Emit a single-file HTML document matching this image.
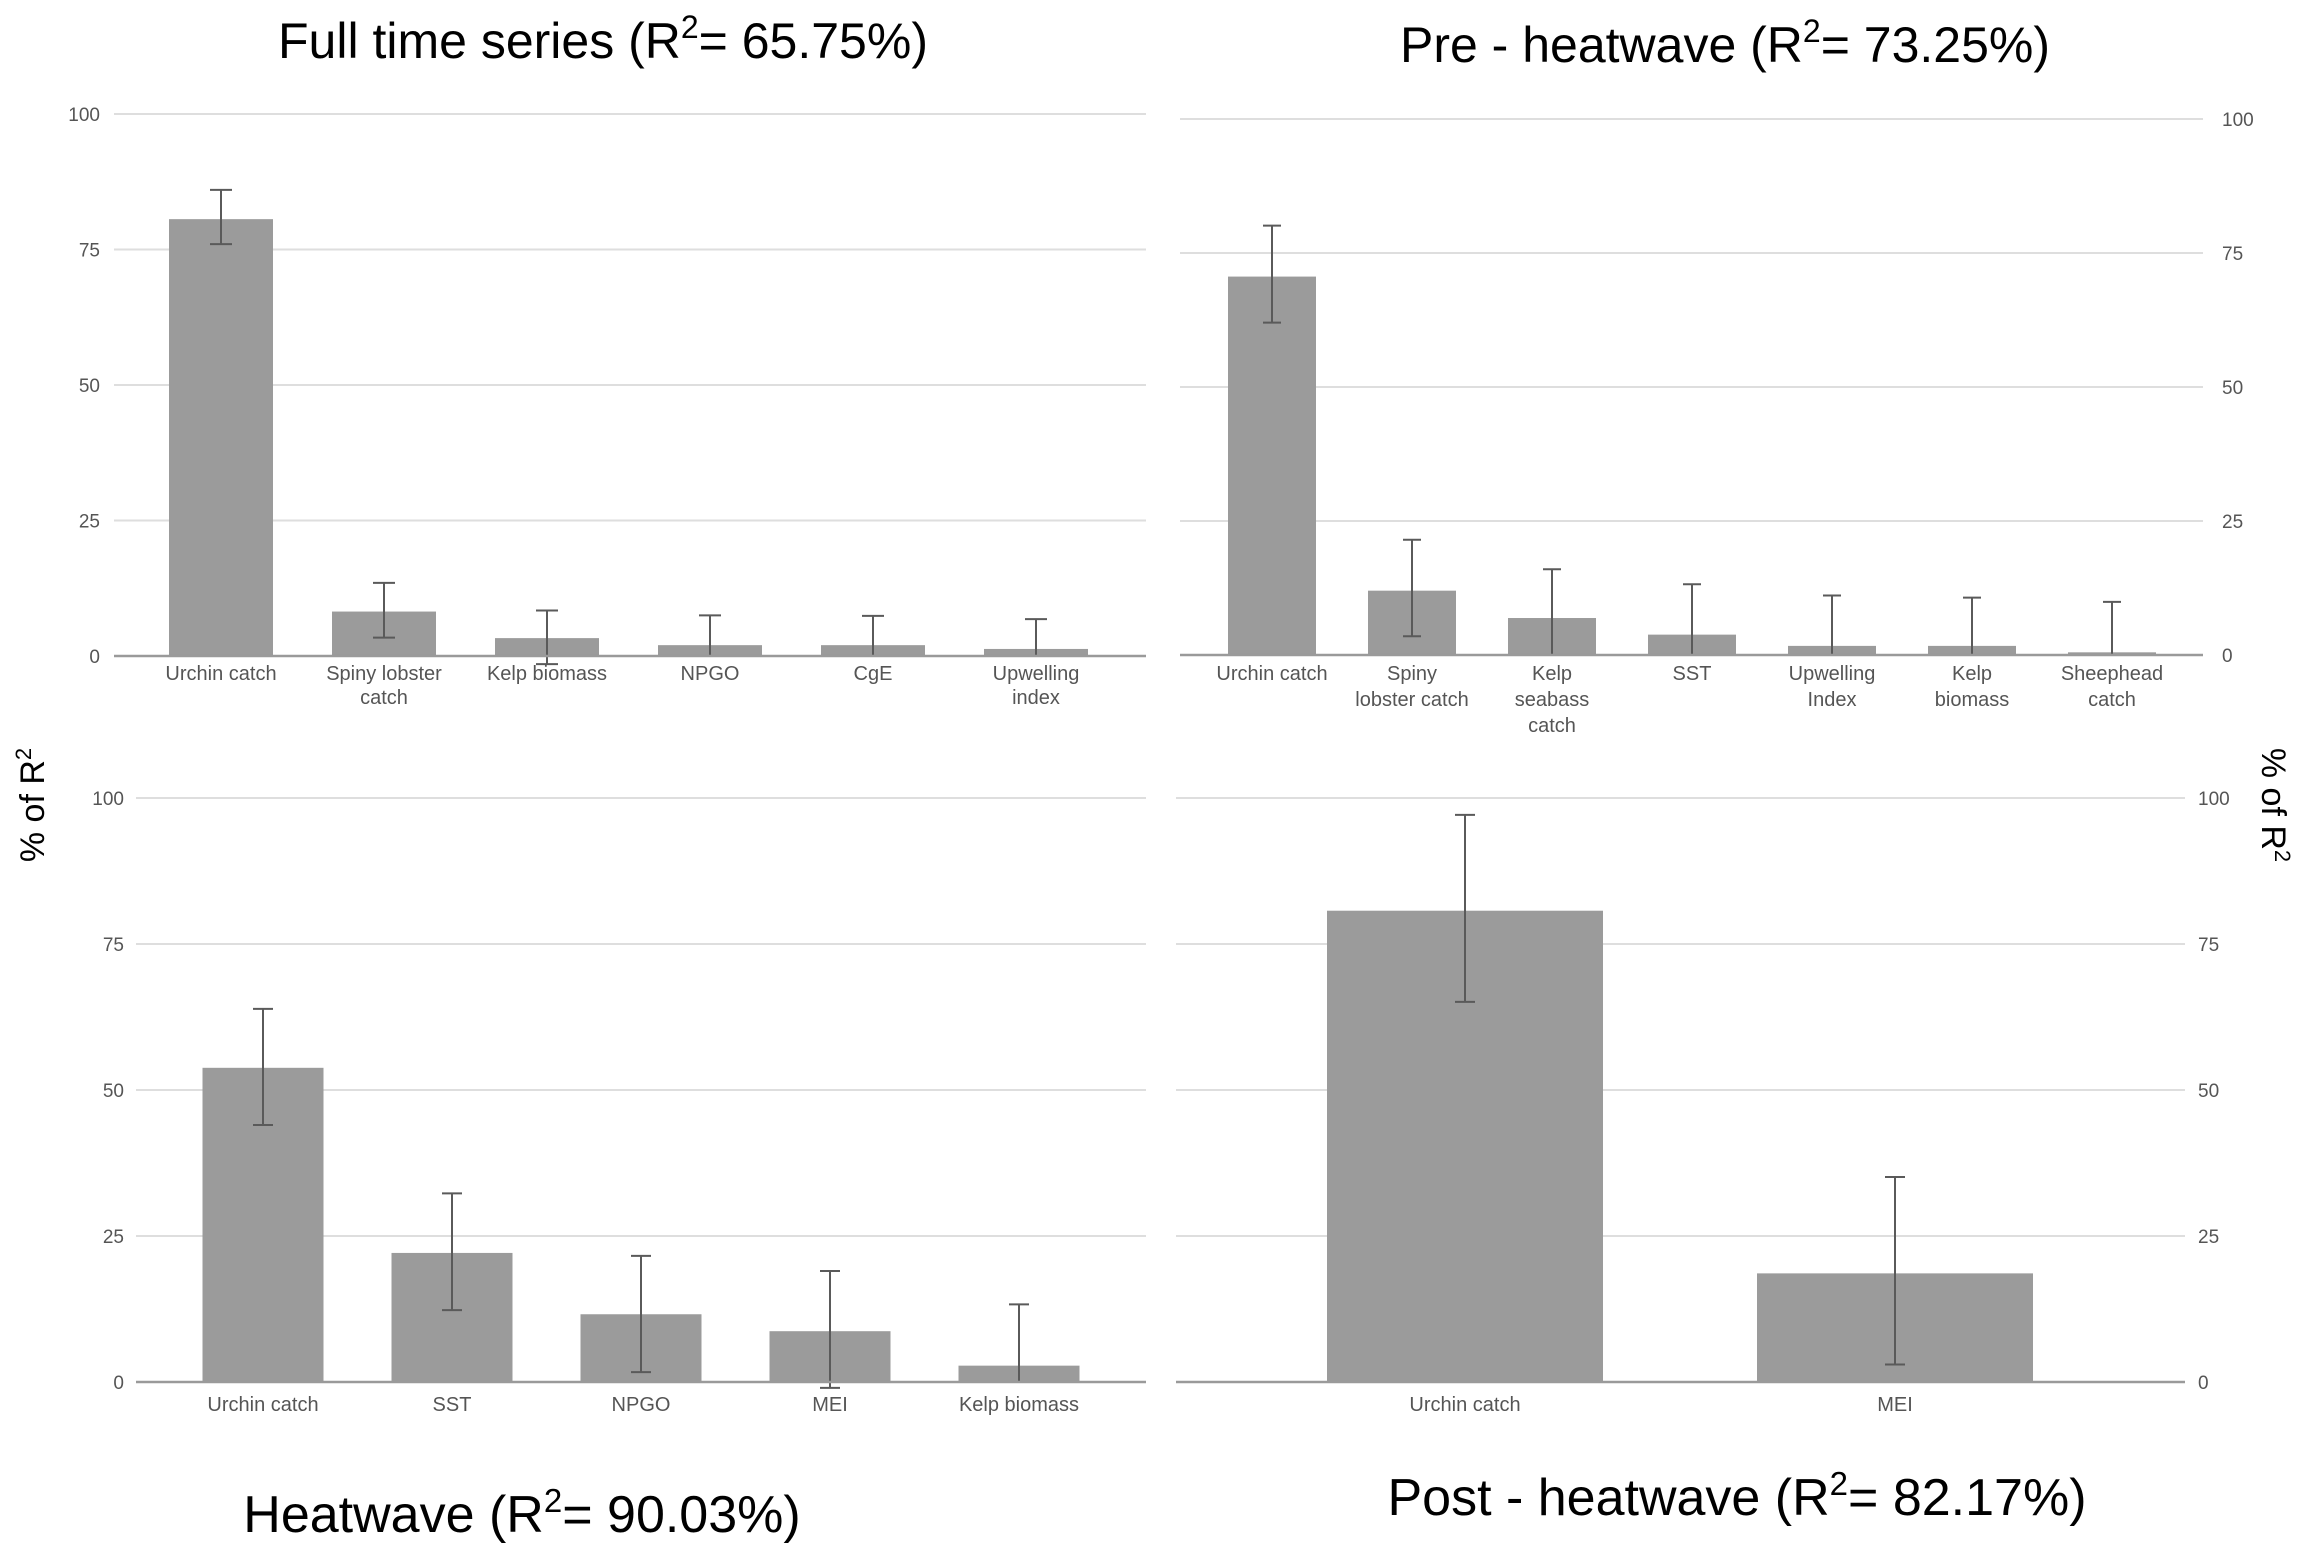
<!DOCTYPE html>
<html><head><meta charset="utf-8"><style>
html,body{margin:0;padding:0;background:#fff;}
svg{display:block;font-family:"Liberation Sans",Arial,sans-serif;}
</style></head><body>
<svg id="chart" width="2303" height="1547" viewBox="0 0 2303 1547">
<text x="603" y="58" font-size="50" text-anchor="middle" fill="#000">Full time series (R<tspan dy="-20" font-size="32">2</tspan><tspan dy="20">= 65.75%)</tspan></text>
<text x="1725" y="62" font-size="50" text-anchor="middle" fill="#000">Pre - heatwave (R<tspan dy="-20" font-size="32">2</tspan><tspan dy="20">= 73.25%)</tspan></text>
<text x="522" y="1532" font-size="52" text-anchor="middle" fill="#000">Heatwave (R<tspan dy="-20" font-size="33">2</tspan><tspan dy="20">= 90.03%)</tspan></text>
<text x="1737" y="1515" font-size="52" text-anchor="middle" fill="#000">Post - heatwave (R<tspan dy="-20" font-size="33">2</tspan><tspan dy="20">= 82.17%)</tspan></text>
<text transform="translate(44,805) rotate(-90)" font-size="34" text-anchor="middle" fill="#000">% of R<tspan dy="-13" font-size="22">2</tspan></text>
<text transform="translate(2262,805) rotate(90)" font-size="34" text-anchor="middle" fill="#000">% of R<tspan dy="-13" font-size="22">2</tspan></text>
<g id="plots"></g>
</svg>
<script>
const ticks = [0, 25, 50, 75, 100];
const tickLabels = ["0", "25", "50", "75", "100"];

const cats1 = ["Urchin catch", "Spiny lobster\ncatch", "Kelp biomass", "NPGO", "CgE", "Upwelling\nindex"];
const vals1 = [80.6, 8.2, 3.3, 2.0, 2.0, 1.3];
const errLo1 = [76, 3.4, -1.5, 0, 0, 0];
const errHi1 = [86, 13.5, 8.4, 7.5, 7.4, 6.8];

const cats2 = ["Urchin catch", "Spiny\nlobster catch", "Kelp\nseabass\ncatch", "SST", "Upwelling\nIndex", "Kelp\nbiomass", "Sheephead\ncatch"];
const vals2 = [70.6, 12.0, 6.9, 3.8, 1.7, 1.7, 0.5];
const errLo2 = [62, 3.5, 0, 0, 0, 0, 0];
const errHi2 = [80.1, 21.5, 16, 13.2, 11.1, 10.7, 9.9];

const cats3 = ["Urchin catch", "SST", "NPGO", "MEI", "Kelp biomass"];
const vals3 = [53.8, 22.1, 11.6, 8.7, 2.8];
const errLo3 = [44, 12.3, 1.7, -1, 0];
const errHi3 = [63.9, 32.3, 21.6, 19, 13.3];

const cats4 = ["Urchin catch", "MEI"];
const vals4 = [80.7, 18.6];
const errLo4 = [65.1, 3];
const errHi4 = [97.1, 35.1];

const NS = "http://www.w3.org/2000/svg";
const root = document.getElementById("plots");
function mk(tag, attrs, parent) {
  const e = document.createElementNS(NS, tag);
  for (const k in attrs) e.setAttribute(k, attrs[k]);
  (parent || root).appendChild(e);
  return e;
}

const panels = [
  {id:"full", cats:cats1, vals:vals1, lo:errLo1, hi:errHi1, x0:114, x1:1146, y0:656, y100:114, start:139.5, step:163, bw:104, side:"left", tx:100, ly:680, lh:24, cap:11},
  {id:"pre", cats:cats2, vals:vals2, lo:errLo2, hi:errHi2, x0:1180, x1:2203, y0:655, y100:119, start:1202, step:140, bw:88, side:"right", tx:2222, ly:680, lh:26, cap:9},
  {id:"heatwave", cats:cats3, vals:vals3, lo:errLo3, hi:errHi3, x0:136, x1:1146, y0:1382, y100:798, start:168.5, step:189, bw:121, side:"left", tx:124, ly:1411, lh:24, cap:10},
  {id:"post", cats:cats4, vals:vals4, lo:errLo4, hi:errHi4, x0:1176, x1:2185, y0:1382, y100:798, start:1250, step:430, bw:276, side:"right", tx:2198, ly:1411, lh:24, cap:10}
];

panels.forEach(p => {
  const g = mk("g", {});
  
  
  const yS = v => p.y0 - (v / 100) * (p.y0 - p.y100);
  const xC = i => p.start + (i + 0.5) * p.step;
  ticks.forEach((t, k) => {
    if (t !== 0) {
      const gl = mk("line", {x1:p.x0, x2:p.x1, y1:yS(t), y2:yS(t), stroke:"#dedede", "stroke-width":2}, g);
      
      
    }
    const tl = mk("text", {x:p.tx, y:yS(t) + 7, "font-size":19, fill:"#555", "text-anchor": p.side === "left" ? "end" : "start"}, g);
    tl.textContent = tickLabels[k];
    
    
  });
  p.vals.forEach((v, i) => {
    const cx = xC(i);
    const b = mk("rect", {x:cx - p.bw / 2, y:yS(v), width:p.bw, height:yS(0) - yS(v), fill:"#9b9b9b"}, g);
    
    
    const eg = mk("g", {stroke:"#5a5a5a", "stroke-width":2}, g);
    
    
    mk("line", {x1:cx, x2:cx, y1:yS(p.hi[i]), y2:yS(p.lo[i])}, eg);
    mk("line", {x1:cx - p.cap, x2:cx + p.cap, y1:yS(p.hi[i]), y2:yS(p.hi[i])}, eg);
    mk("line", {x1:cx - p.cap, x2:cx + p.cap, y1:yS(p.lo[i]), y2:yS(p.lo[i])}, eg);
    const lines = p.cats[i].split("\n");
    lines.forEach((ln, j) => {
      const t = mk("text", {x:cx, y:p.ly + j * p.lh, "font-size":20, fill:"#555", "text-anchor":"middle"}, g);
      t.textContent = ln;
      
      
    });
  });
  const ax = mk("line", {x1:p.x0, x2:p.x1, y1:p.y0, y2:p.y0, stroke:"#9a9a9a", "stroke-width":2.5}, g);
  
  
});
</script>
</body></html>
